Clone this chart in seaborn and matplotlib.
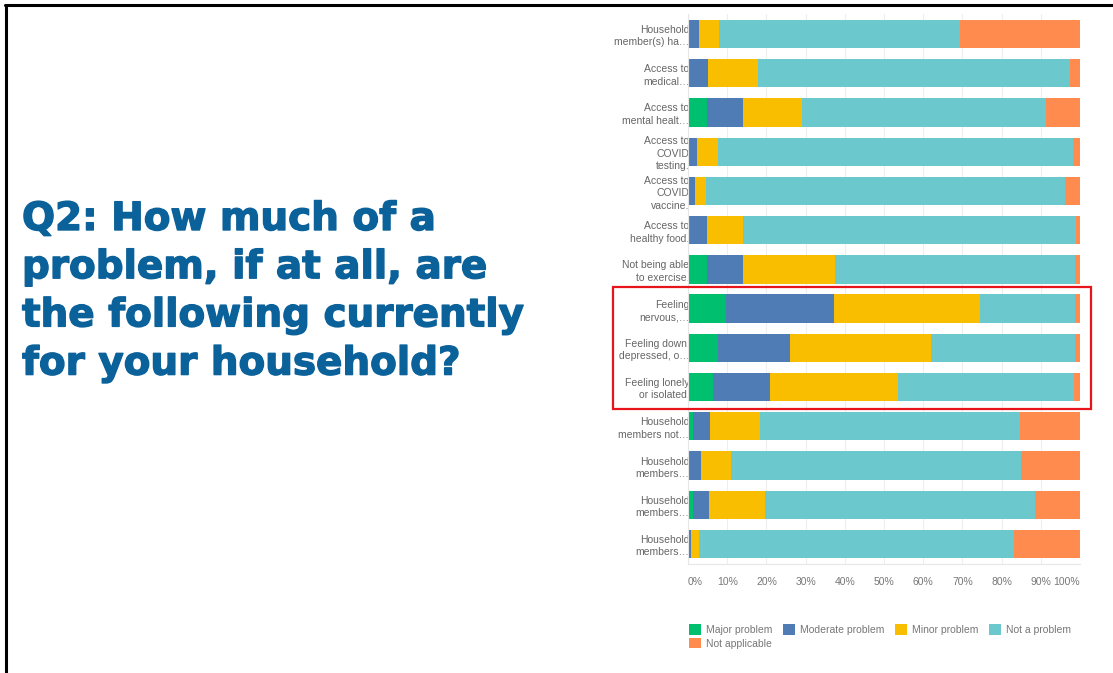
import matplotlib
matplotlib.use("Agg")
from matplotlib import pyplot as plt
from matplotlib.patches import Rectangle, Patch
from matplotlib.lines import Line2D
import matplotlib.patheffects as pe
import pandas as pd
import numpy as np
import seaborn as sns

labels = [
    "Household\nmember(s) ha…",
    "Access to\nmedical…",
    "Access to\nmental healt…",
    "Access to\nCOVID\ntesting.",
    "Access to\nCOVID\nvaccine.",
    "Access to\nhealthy food.",
    "Not being able\nto exercise.",
    "Feeling\nnervous,…",
    "Feeling down,\ndepressed, o…",
    "Feeling lonely\nor isolated.",
    "Household\nmembers not…",
    "Household\nmembers…",
    "Household\nmembers…",
    "Household\nmembers…",
]
series = ["Major problem", "Moderate problem", "Minor problem", "Not a problem", "Not applicable"]
colors = ["#00BF6F", "#507CB6", "#F9BE00", "#6BC8CD", "#FF8B4F"]

major    = [0.2, 0.2, 4.9, 0.2, 0.3, 0.5, 4.9, 9.7, 7.7, 6.3, 1.3, 0.3, 1.3, 0.2]
moderate = [2.7, 4.8, 9.2, 2.1, 1.4, 4.4, 9.1, 27.6, 18.3, 14.5, 4.2, 3.0, 4.0, 0.6]
minor    = [5.1, 12.8, 14.9, 5.3, 3.0, 9.1, 23.4, 37.2, 35.9, 32.8, 12.9, 7.6, 14.4, 1.9]
not_prob = [61.5, 79.6, 62.3, 90.7, 91.6, 85.1, 61.2, 24.1, 36.7, 44.9, 66.2, 74.0, 68.8, 80.5]
not_appl = [30.5, 2.6, 8.7, 1.7, 3.7, 0.9, 1.4, 1.4, 1.4, 1.5, 15.4, 15.1, 11.5, 16.8]

df = pd.DataFrame({
    "row": range(len(labels)),
    "Major problem": major,
    "Moderate problem": moderate,
    "Minor problem": minor,
    "Not a problem": not_prob,
    "Not applicable": not_appl,
})
cum = df[series].cumsum(axis=1)
cum = cum.div(cum["Not applicable"], axis=0) * 100
cum["row"] = df["row"]

sns.set_style("white")
plt.rcParams["font.family"] = ["Liberation Sans", "DejaVu Sans"]

W, H = 1113, 673
fig = plt.figure(figsize=(W / 100, H / 100), dpi=100)
ax = fig.add_axes([688 / W, 1 - 563.6 / H, 392 / W, 549.2 / H])

# stacked bars: draw cumulative totals from the largest down
for name, c in reversed(list(zip(series, colors))):
    sns.barplot(data=cum, x=name, y="row", orient="h", color=c, width=0.72,
                saturation=1, ax=ax, linewidth=0)

ax.set_xlim(0, 100)
ax.set_ylim(13.5, -0.5)
ax.set_xticks(np.arange(0, 101, 10))
xt = ax.set_xticklabels([f"{v}%" for v in range(0, 101, 10)], fontsize=7.5, color="#777777")
xt[0].set_ha("left")
xt[-1].set_ha("right")
ax.set_yticks(range(len(labels)))
ax.set_yticklabels(labels, fontsize=7.5, color="#666666", linespacing=1.3)
ax.tick_params(axis="both", length=0)
ax.tick_params(axis="x", pad=10)
ax.tick_params(axis="y", pad=-1)
ax.set_xlabel("")
ax.set_ylabel("")
ax.xaxis.grid(True, color="#eeeeee", lw=0.8)
ax.set_axisbelow(True)
for s in ["top", "right"]:
    ax.spines[s].set_visible(False)
for s in ["left", "bottom"]:
    ax.spines[s].set_color("#e6e6e6")

handles = [Patch(facecolor=c, edgecolor="none") for c in colors]
order = [0, 4, 1, 2, 3]
fig.legend([handles[i] for i in order], [series[i] for i in order], ncol=4,
           loc="upper left", bbox_to_anchor=(684 / W, 1 - 619 / H), frameon=False,
           fontsize=7.5, labelcolor="#777777", handlelength=1.15, handleheight=1.15,
           handletextpad=0.5, columnspacing=1.0, labelspacing=0.3, borderpad=0)

title_color = "#0B6199"
fig.text(22 / W, 1 - 200 / H,
         "Q2: How much of a\nproblem, if at all, are\nthe following currently\nfor your household?",
         fontsize=28, fontweight="bold", color=title_color, va="top", ha="left",
         linespacing=1.34, family="DejaVu Sans",
         path_effects=[pe.withStroke(linewidth=1.0, foreground=title_color)])

fig.add_artist(Rectangle((613 / W, 1 - 409 / H), 478 / W, 122 / H, fill=False,
                         edgecolor="#E8141B", lw=1.6, transform=fig.transFigure))
fig.add_artist(Line2D([5 / W, 1], [1 - 5 / H] * 2, color="black", lw=2.2))
fig.add_artist(Line2D([6 / W] * 2, [0, 1 - 5 / H], color="black", lw=2.2))

fig.savefig("out.png", dpi=100)
